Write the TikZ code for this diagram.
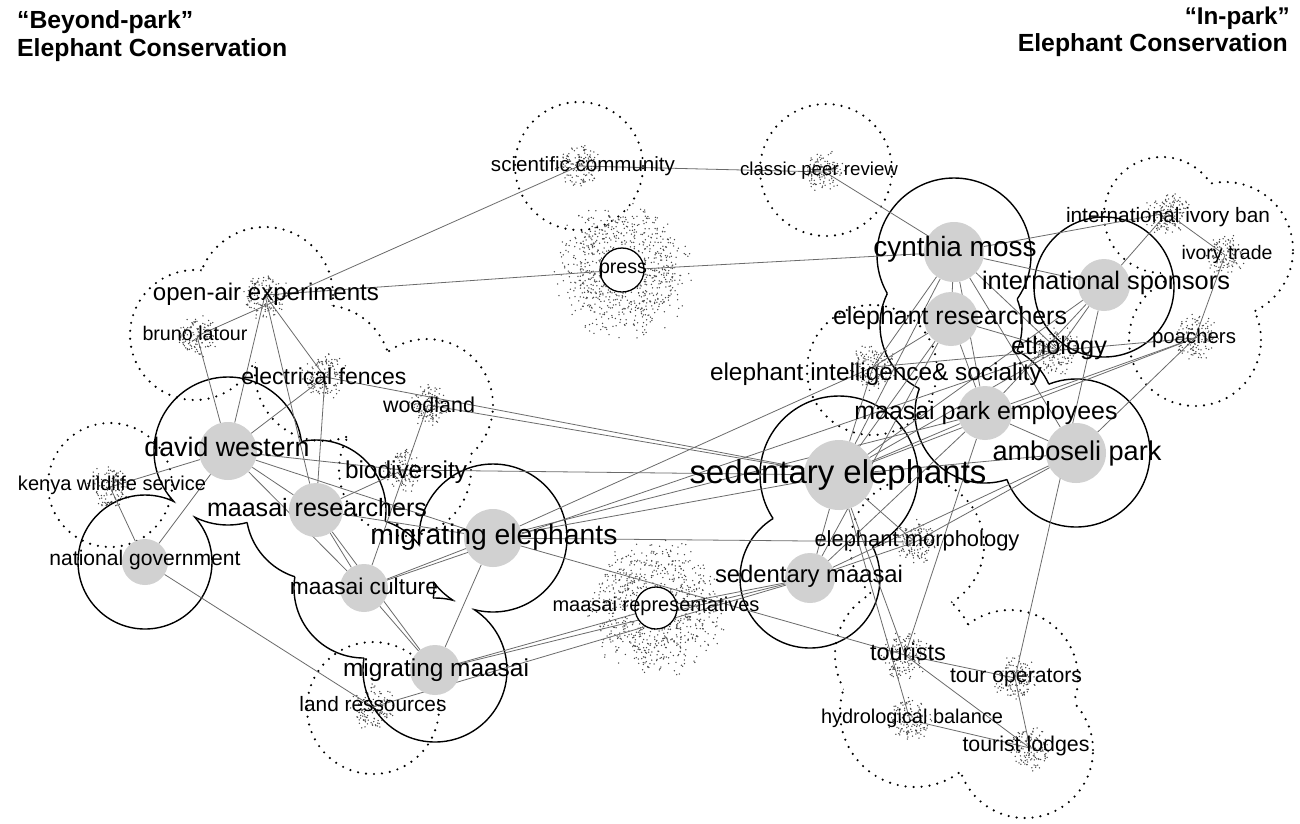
\documentclass[tikz,border=0pt]{standalone}
\usepackage{fontspec}
\setmainfont{Liberation Sans}
\usepackage{graphicx}
\pgfdeclarelayer{bgl}
\pgfdeclarelayer{stip}
\pgfdeclarelayer{outl}
\pgfdeclarelayer{edges}
\pgfsetlayers{bgl,stip,outl,edges,main}
\tikzset{
  disc/.style={circle, fill=black!18, inner sep=0pt},
  ring/.style={circle, draw=black, line width=1.3pt, fill=white, inner sep=0pt},
  lab/.style={inner sep=0pt, text=black},
  link/.style={draw=black!58, line width=0.8pt},
  solidline/.style={draw=black, line width=1.4pt},
  dotline/.style={draw=black, line width=2.4pt, line cap=round, dash pattern=on 0pt off 8pt},
  stipc/.style={fill=black!72}
}
\newcommand\lw[2]{\resizebox{#1pt}{!}{#2}}
\newcommand\unionring[2]{%
  \foreach \ax/\ay/\ar [count=\ia] in {#2}{%
    \begin{scope}
      \foreach \bx/\by/\br [count=\ib] in {#2}{%
        \ifnum\ia=\ib\relax\else
          \clip (-50,50) -- (1350,50) -- (1350,-873) -- (-50,-873) -- cycle ({\bx+\br},-\by) arc[start angle=0, end angle=360, radius=\br pt] -- cycle;
        \fi
      }%
      \draw[#1] (\ax,-\ay) circle[radius=\ar pt];
    \end{scope}
  }%
}
\newcommand\cloud[4]{%
  \foreach \k in {1,...,#4}{%
    \pgfmathsetmacro\cang{360*rnd}%
    \pgfmathsetmacro\crad{#3*sqrt(rnd)*(0.7+0.4*rnd)}%
    \fill[stipc] ({#1+\crad*cos(\cang)},{-#2+\crad*sin(\cang)}) circle[radius=0.75pt];
  }}
\begin{document}
\begin{tikzpicture}[x=1pt,y=1pt]
\useasboundingbox (0,0) rectangle (1300,-823);
\begin{pgfonlayer}{bgl}
\fill[white] (0,0) rectangle (1300,-823);
\end{pgfonlayer}

% titles
\node[lab, anchor=base west] (title1a) at (17,-28) {\bfseries\lw{176}{“Beyond-park”}};
\node[lab, anchor=base west] (title1b) at (17,-56) {\bfseries\lw{270}{Elephant Conservation}};
\node[lab, anchor=base east] (title2a) at (1290,-24) {\bfseries\lw{105}{“In-park”}};
\node[lab, anchor=base east] (title2b) at (1288,-51) {\bfseries\lw{270}{Elephant Conservation}};

% stipple clouds
\begin{pgfonlayer}{stip}
\pgfmathsetseed{42}
\cloud{579}{166}{22}{140}
\cloud{825}{172}{20}{120}
\cloud{622}{270}{66}{850}
\cloud{1167}{213}{22}{140}
\cloud{1225}{255}{20}{120}
\cloud{1195}{338}{23}{140}
\cloud{1055}{350}{24}{150}
\cloud{873}{367}{23}{140}
\cloud{265}{295}{23}{140}
\cloud{197}{336}{21}{125}
\cloud{325}{377}{22}{135}
\cloud{428}{405}{21}{125}
\cloud{403}{470}{21}{125}
\cloud{110}{487}{22}{135}
\cloud{915}{542}{22}{135}
\cloud{656}{608}{66}{850}
\cloud{373}{707}{22}{135}
\cloud{905}{655}{24}{150}
\cloud{1015}{678}{22}{135}
\cloud{910}{720}{22}{135}
\cloud{1030}{748}{22}{135}
\end{pgfonlayer}

% outlines
\begin{pgfonlayer}{outl}
\unionring{solidline}{228/451/74, 145/562/67, 316/510/70, 364/588/70, 435/670/72, 493/538/74}
\unionring{solidline}{954/255/77, 951/325/71, 1104/287/70, 985/413/70, 1076/453/74, 839/475/79, 810/578/70}
\unionring{dotline}{579/166/64}
\unionring{dotline}{826/170/66}
\unionring{dotline}{1162/215/58, 1225/250/68, 1195/340/66}
\unionring{dotline}{265/295/68, 195/335/65, 323/373/68, 427/405/66, 405/470/66}
\unionring{dotline}{110/485/62}
\unionring{dotline}{373/708/66}
\unionring{dotline}{872/370/65}
\unionring{dotline}{917/545/67, 905/655/70, 915/712/75, 1010/678/68, 1025/750/68}
\end{pgfonlayer}

% small (stippled) nodes
\coordinate (sc) at (579,-166);
\coordinate (cpr) at (825,-172);
\coordinate (iib) at (1167,-213);
\coordinate (it) at (1225,-255);
\coordinate (poa) at (1195,-338);
\coordinate (eth) at (1058,-350);
\coordinate (ei) at (873,-367);
\coordinate (oa) at (265,-295);
\coordinate (bl) at (197,-336);
\coordinate (ef) at (325,-377);
\coordinate (wl) at (428,-405);
\coordinate (bio) at (403,-470);
\coordinate (kws) at (110,-487);
\coordinate (em) at (915,-542);
\coordinate (lr) at (373,-707);
\coordinate (tou) at (905,-655);
\coordinate (to) at (1015,-678);
\coordinate (hb) at (910,-720);
\coordinate (tl) at (1030,-748);

% big nodes
\node[disc, minimum size=60pt] (cm) at (954,-252) {};
\node[disc, minimum size=54pt] (er) at (951,-319) {};
\node[disc, minimum size=52pt] (is) at (1104,-285) {};
\node[disc, minimum size=54pt] (mpe) at (985,-413) {};
\node[disc, minimum size=60pt] (ap) at (1076,-453) {};
\node[disc, minimum size=70pt] (se) at (839,-475) {};
\node[disc, minimum size=50pt] (sm) at (810,-578) {};
\node[disc, minimum size=58pt] (me) at (493,-538) {};
\node[disc, minimum size=54pt] (mr) at (316,-510) {};
\node[disc, minimum size=58pt] (dw) at (228,-451) {};
\node[disc, minimum size=46pt] (ng) at (145,-562) {};
\node[disc, minimum size=48pt] (mc) at (364,-588) {};
\node[disc, minimum size=50pt] (mm) at (435,-670) {};
\node[ring, minimum size=44pt] (press) at (622,-270) {};
\node[ring, minimum size=42pt] (mrep) at (656,-608) {};

% connectors
\begin{pgfonlayer}{edges}
\foreach \a/\b in {bl/sc, oa/press, press/cm, sc/cpr, cpr/cm, cm/iib, is/iib, iib/it, it/poa,
  bl/dw, oa/dw, oa/mr, oa/ef, ef/dw, ef/mr, ef/se, wl/se, wl/mc,
  dw/kws, kws/ng, dw/ng, dw/bio, dw/mr, dw/mc, dw/me,
  bio/se, mr/bio, mr/me, mr/mc, mr/mm, mc/mm, mc/me, me/mm, mc/eth,
  ng/lr, lr/sm, mm/sm, mm/mrep, mrep/sm,
  me/tou, me/se, me/mpe, me/em, me/ei,
  cm/er, cm/se, cm/is, cm/mpe, cm/ap, cm/eth,
  er/se, er/sm, er/mpe, er/eth, mpe/tou,
  ei/se, ei/er, ei/cm, ei/poa,
  is/se, is/mpe, is/eth, is/to,
  poa/mpe, poa/se, poa/ap,
  mpe/se, mpe/ap, mpe/sm,
  ap/se, ap/sm, ap/em,
  eth/se, se/sm, se/em, se/tou, se/hb, sm/em,
  tou/to, tou/tl, hb/tl, to/tl}
  {\draw[link] (\a) -- (\b);}
\end{pgfonlayer}

% labels
\node[lab] (t-sc) at (583,-166) {\lw{184}{scientific community}};
\node[lab] (t-cpr) at (819,-171) {\lw{158}{classic peer review}};
\node[lab] (t-press) at (623,-270) {\lw{48}{press}};
\node[lab] (t-iib) at (1168,-217) {\lw{204}{international ivory ban}};
\node[lab] (t-it) at (1227,-254) {\lw{91}{ivory trade}};
\node[lab] (t-cm) at (955,-249) {\lw{163}{cynthia moss}};
\node[lab] (t-is) at (1106,-283) {\lw{248}{international sponsors}};
\node[lab] (t-er) at (950,-318) {\lw{234}{elephant researchers}};
\node[lab] (t-poa) at (1194,-338) {\lw{84}{poachers}};
\node[lab] (t-eth) at (1059,-348) {\lw{96}{ethology}};
\node[lab] (t-ei) at (876,-374) {\lw{332}{elephant intelligence\& sociality}};
\node[lab] (t-mpe) at (986,-413) {\lw{263}{maasai park employees}};
\node[lab] (t-ap) at (1077,-453) {\lw{169}{amboseli park}};
\node[lab] (t-se) at (838,-475) {\lw{297}{sedentary elephants}};
\node[lab] (t-em) at (917,-541) {\lw{205}{elephant morphology}};
\node[lab] (t-sm) at (809,-576) {\lw{188}{sedentary maasai}};
\node[lab] (t-mrep) at (656,-606) {\lw{207}{maasai representatives}};
\node[lab] (t-me) at (494,-537) {\lw{247}{migrating elephants}};
\node[lab] (t-bio) at (406,-472) {\lw{122}{biodiversity}};
\node[lab] (t-wl) at (429,-405) {\lw{92}{woodland}};
\node[lab] (t-ef) at (324,-376) {\lw{165}{electrical fences}};
\node[lab] (t-oa) at (266,-294) {\lw{226}{open-air experiments}};
\node[lab] (t-bl) at (195,-333) {\lw{105}{bruno latour}};
\node[lab] (t-dw) at (227,-447) {\lw{165}{david western}};
\node[lab] (t-kws) at (112,-485) {\lw{188}{kenya wildlife service}};
\node[lab] (t-mr) at (317,-508) {\lw{220}{maasai researchers}};
\node[lab] (t-ng) at (145,-560) {\lw{191}{national government}};
\node[lab] (t-mc) at (364,-586) {\lw{148}{maasai culture}};
\node[lab] (t-mm) at (436,-670) {\lw{186}{migrating maasai}};
\node[lab] (t-lr) at (373,-704) {\lw{147}{land ressources}};
\node[lab] (t-tou) at (908,-652) {\lw{76}{tourists}};
\node[lab] (t-to) at (1016,-678) {\lw{132}{tour operators}};
\node[lab] (t-hb) at (912,-718) {\lw{182}{hydrological balance}};
\node[lab] (t-tl) at (1026,-746) {\lw{127}{tourist lodges}};
\end{tikzpicture}
\end{document}
